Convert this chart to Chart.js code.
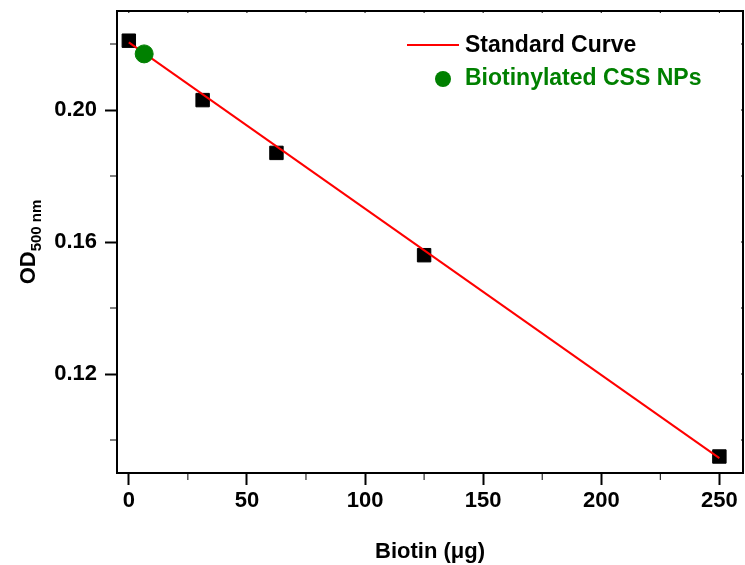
<!DOCTYPE html>
<html>
<head>
<meta charset="utf-8">
<script src="https://cdn.jsdelivr.net/npm/chart.js@4.4.1/dist/chart.umd.min.js"></script>
<style>
  html, body { margin: 0; padding: 0; background: #fff; }
  #wrap { width: 745px; height: 565px; }
</style>
</head>
<body>
<div id="wrap"><canvas id="odChart"></canvas></div>
<script>
// data
const biotinUg = [0, 31.25, 62.5, 125, 250];
const odValues = [0.221, 0.203, 0.187, 0.156, 0.095];
const fitX = [0, 250];
const fitY = [0.2205, 0.0945];
const sampleX = [6.5];
const sampleY = [0.217];

const xMajor = [0, 50, 100, 150, 200, 250];
const xMinor = [25, 75, 125, 175, 225];
const yMajor = [0.12, 0.16, 0.20];
const yMinor = [0.10, 0.14, 0.18, 0.22];

const FONT = '"Liberation Sans", Arial, sans-serif';

// minor ticks, box ticks, y title with subscript, legend
const decorPlugin = {
  id: 'decor',
  afterDraw(chart) {
    const ctx = chart.ctx;
    const { left, right, top, bottom } = chart.chartArea;
    const xs = chart.scales.x, ys = chart.scales.y;
    ctx.save();
    ctx.strokeStyle = '#000';
    ctx.lineWidth = 2;
    ctx.beginPath();
    xMinor.forEach(v => {
      const px = xs.getPixelForValue(v);
      ctx.moveTo(px, bottom); ctx.lineTo(px, bottom + 7);
    });
    yMinor.forEach(v => {
      const py = ys.getPixelForValue(v);
      ctx.moveTo(left, py); ctx.lineTo(left - 7, py);
    });
    // small inward ticks on top and right
    ctx.lineWidth = 1;
    xMajor.concat(xMinor).forEach(v => {
      const px = xs.getPixelForValue(v);
      ctx.moveTo(px, top); ctx.lineTo(px, top + 2);
    });
    yMajor.concat(yMinor).forEach(v => {
      const py = ys.getPixelForValue(v);
      ctx.moveTo(right, py); ctx.lineTo(right - 2, py);
    });
    ctx.stroke();
    // top and right frame
    ctx.lineWidth = 2;
    ctx.beginPath();
    ctx.moveTo(left, top); ctx.lineTo(right, top); ctx.lineTo(right, bottom);
    ctx.stroke();

    // y title: OD with subscript
    ctx.fillStyle = '#000';
    ctx.translate(27, (top + bottom) / 2);
    ctx.rotate(-Math.PI / 2);
    ctx.font = 'bold 22px ' + FONT;
    const w1 = ctx.measureText('OD').width;
    ctx.font = 'bold 15px ' + FONT;
    const w2 = ctx.measureText('500 nm').width;
    const start = -(w1 + w2) / 2;
    ctx.textBaseline = 'alphabetic';
    ctx.textAlign = 'left';
    ctx.font = 'bold 22px ' + FONT;
    ctx.fillText('OD', start, 8);
    ctx.font = 'bold 15px ' + FONT;
    ctx.fillText('500 nm', start + w1, 14);
    ctx.restore();

    // legend
    ctx.save();
    ctx.strokeStyle = '#ff0000';
    ctx.lineWidth = 2;
    ctx.beginPath();
    ctx.moveTo(407, 45); ctx.lineTo(459, 45);
    ctx.stroke();
    ctx.fillStyle = '#008000';
    ctx.beginPath();
    ctx.arc(443, 79, 8, 0, Math.PI * 2);
    ctx.fill();
    ctx.font = 'bold 23px ' + FONT;
    ctx.textBaseline = 'middle';
    ctx.fillStyle = '#000';
    ctx.fillText('Standard Curve', 465, 46);
    ctx.fillStyle = '#008000';
    ctx.fillText('Biotinylated CSS NPs', 465, 79);
    ctx.restore();
  }
};

new Chart(document.getElementById('odChart').getContext('2d'), {
  type: 'scatter',
  data: {
    datasets: [
      {
        label: 'Biotinylated CSS NPs',
        data: sampleX.map((x, i) => ({ x: x, y: sampleY[i] })),
        backgroundColor: '#008000',
        borderColor: '#008000',
        pointStyle: 'circle',
        pointRadius: 9,
        order: 0
      },
      {
        label: 'Standard Curve',
        type: 'line',
        data: fitX.map((x, i) => ({ x: x, y: fitY[i] })),
        borderColor: '#ff0000',
        borderWidth: 2,
        pointRadius: 0,
        fill: false,
        order: 1
      },
      {
        label: 'Standards',
        data: biotinUg.map((x, i) => ({ x: x, y: odValues[i] })),
        backgroundColor: '#000',
        borderColor: '#000',
        pointStyle: 'rect',
        pointRadius: 9.5,
        order: 2
      }
    ]
  },
  options: {
    responsive: true,
    maintainAspectRatio: false,
    animation: false,
    layout: { autoPadding: false, padding: { top: 11, right: 2, left: 0, bottom: 0 } },
    plugins: {
      legend: { display: false },
      tooltip: { enabled: false }
    },
    scales: {
      x: {
        type: 'linear',
        min: -5,
        max: 260,
        afterFit: s => { s.height = 92; s.paddingLeft = 0; s.paddingRight = 0; },
        afterBuildTicks: s => { s.ticks = xMajor.map(v => ({ value: v })); },
        border: { display: true, color: '#000', width: 2 },
        grid: { drawOnChartArea: false, drawTicks: true, tickLength: 12, tickWidth: 2, tickColor: '#000' },
        ticks: { color: '#000', font: { family: FONT, size: 22, weight: 'bold' }, padding: 3, maxRotation: 0 },
        title: {
          display: true,
          text: 'Biotin (\u03bcg)',
          color: '#000',
          font: { family: FONT, size: 22, weight: 'bold' },
          padding: { top: 10, bottom: 0 }
        }
      },
      y: {
        type: 'linear',
        min: 0.09,
        max: 0.23,
        afterFit: s => { s.width = 117; s.paddingTop = 0; s.paddingBottom = 0; },
        afterBuildTicks: s => { s.ticks = yMajor.map(v => ({ value: v })); },
        border: { display: true, color: '#000', width: 2 },
        grid: { drawOnChartArea: false, drawTicks: true, tickLength: 12, tickWidth: 2, tickColor: '#000' },
        ticks: {
          color: '#000',
          font: { family: FONT, size: 22, weight: 'bold' },
          padding: 8,
          callback: v => v.toFixed(2)
        }
      }
    }
  },
  plugins: [decorPlugin]
});
</script>
</body>
</html>
